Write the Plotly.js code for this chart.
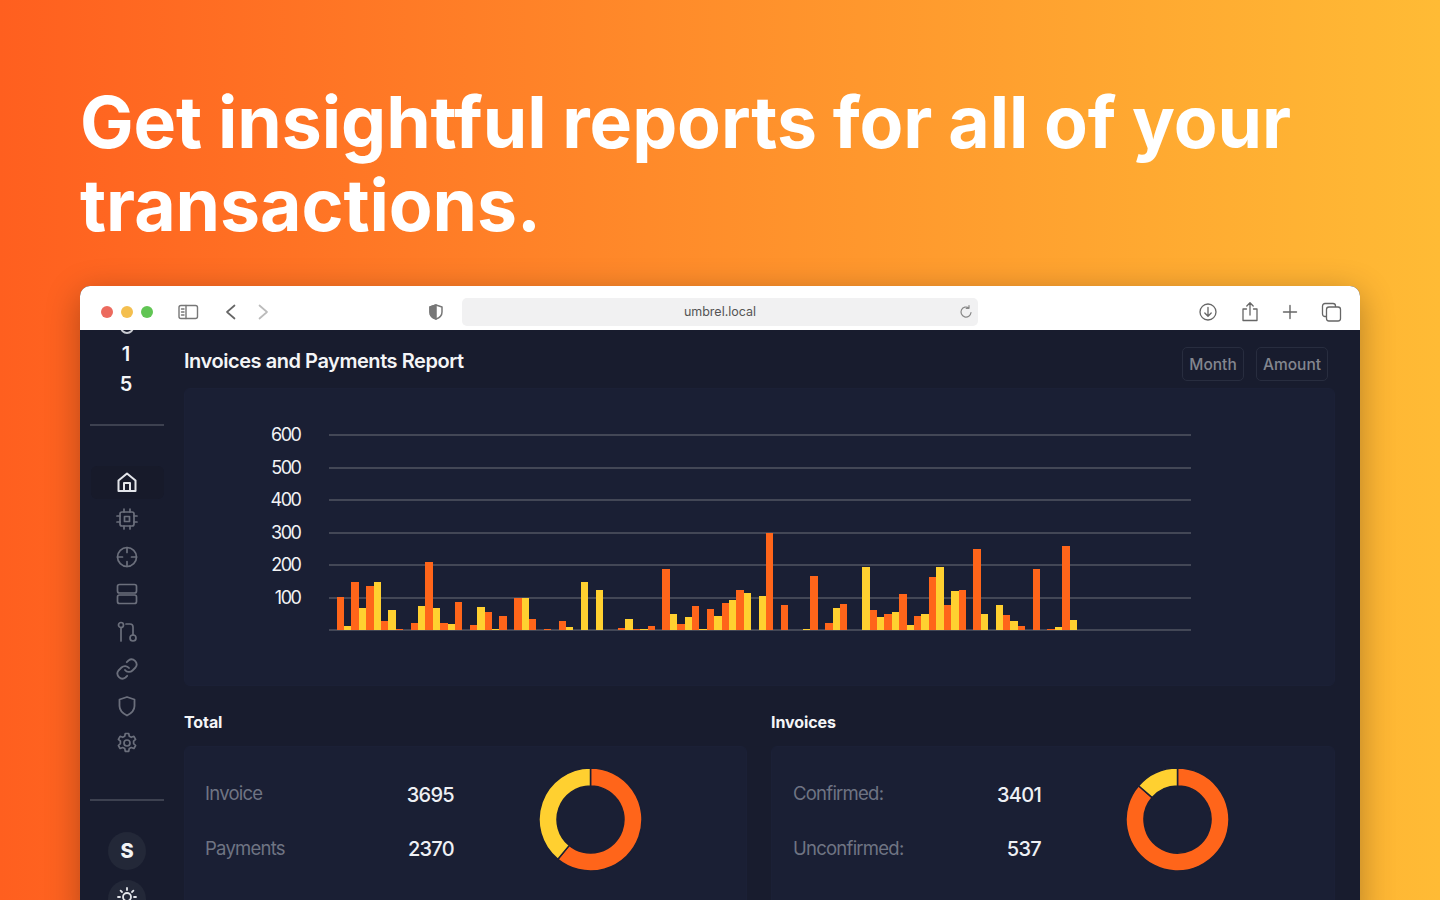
<!DOCTYPE html>
<html><head><meta charset="utf-8">
<script src="https://cdn.plot.ly/plotly-3.0.1.min.js"></script>
<style>
*{box-sizing:border-box}
html,body{margin:0;width:1440px;height:900px;overflow:hidden;font-family:Inter,"Noto Sans",sans-serif}
body{position:relative;background:linear-gradient(90deg,#ff5f1f 0%,#ff8a2a 45%,#ffbb35 100%)}
.a{position:absolute;white-space:nowrap}
#head{left:80px;top:81px;color:#fff;font-size:71.5px;font-weight:700;line-height:82.5px;letter-spacing:-.08px;word-spacing:-1px}
#win{left:80px;top:286px;width:1280px;height:640px;border-radius:10px 10px 0 0;overflow:hidden;background:#181c2e;box-shadow:0 8px 34px rgba(0,0,0,.3)}
#bar{left:80px;top:286px;width:1280px;height:44px;background:#fff;border-radius:10px 10px 0 0}
#url{left:462px;top:298px;width:516px;height:28px;background:#f1f1f2;border-radius:5px;color:#555;font-size:12.5px;line-height:28px;text-align:center}
.dot{width:12px;height:12px;border-radius:50%;top:306px}
.card{background:#1a1f34;border:1px solid #1b2036;border-radius:6px}
.h{color:#f4f5f7;font-weight:600}
.lab{color:#6f7483;font-size:18.5px;letter-spacing:-.75px}
.val{color:#eef0f4;font-size:20px;font-weight:500;text-align:right;letter-spacing:-.7px}
.btn{border:1px solid #282d3f;border-radius:5px;color:#83868f;font-size:15.5px;text-align:center;line-height:33px;height:34px;top:347px;font-weight:500}
.div{left:90px;width:74px;height:2px;background:#3d4150}
svg.i{position:absolute;fill:none;stroke-linecap:round;stroke-linejoin:round}
.plot{position:absolute}
.plot text{letter-spacing:-1.5px}
</style></head><body>
<div class="a" id="head">Get insightful reports for all of your<br>transactions.</div>
<div class="a" id="win"></div>
<div class="a" id="bar"></div>
<div class="a dot" style="left:101px;background:#ec6a5e"></div>
<div class="a dot" style="left:121px;background:#f4bf4f"></div>
<div class="a dot" style="left:141px;background:#61c554"></div>
<svg class="i" style="left:176px;top:302px" width="24" height="20" stroke="#777" stroke-width="1.4"><rect x="3" y="3.5" width="18.5" height="13" rx="2"/><path d="M10 3.5v13M5.5 7h2.5M5.5 10h2.5M5.5 13h2.5"/></svg>
<svg class="i" style="left:222px;top:302px" width="18" height="20" stroke="#666" stroke-width="1.7"><path d="M12.500 3.500 5 10l7.500 6.500"/></svg>
<svg class="i" style="left:254px;top:302px" width="18" height="20" stroke="#bbb" stroke-width="1.7"><path d="M5.500 3.500 13 10l-7.500 6.500"/></svg>
<svg class="i" style="left:426px;top:302px" width="20" height="20" stroke="#777" stroke-width="1.5"><path d="M10 3 4 5v5c0 4 3 6 6 7 3-1 6-3 6-7V5z"/><path d="M10 3 4 5v5c0 4 3 6 6 7z" fill="#777"/></svg>
<div class="a" id="url">umbrel.local</div>
<svg class="i" style="left:958px;top:304px" width="16" height="16" stroke="#888" stroke-width="1.2"><path d="M13 8.500a5 5 0 1 1-2-4.500M11 1.500V4.300H8.200"/></svg>
<svg class="i" style="left:1198px;top:302px" width="20" height="20" stroke="#666" stroke-width="1.3"><circle cx="10" cy="10" r="8"/><path d="M10 5.500v8.500M6.800 11l3.200 3.200 3.200-3.200"/></svg>
<svg class="i" style="left:1240px;top:301px" width="20" height="22" stroke="#666" stroke-width="1.3"><path d="M6.500 8H3v11.500h14V8h-3.500M10 14V2M6.800 5 10 1.800 13.200 5"/></svg>
<svg class="i" style="left:1280px;top:302px" width="20" height="20" stroke="#666" stroke-width="1.4"><path d="M10 3.500v13M3.500 10h13"/></svg>
<svg class="i" style="left:1321px;top:302px" width="21" height="20" stroke="#666" stroke-width="1.3"><rect x="1.500" y="1.500" width="13" height="13" rx="2.500"/><rect x="5.500" y="5" width="14" height="14" rx="2.500" fill="#fff"/></svg>

<div class="a" style="left:120px;top:330px;width:14px;height:4px;overflow:hidden"><div style="width:14px;height:14px;margin-top:-10px;border-radius:50%;border:2px solid #c9cbd1"></div></div>
<div class="a h" style="left:112px;width:28px;text-align:center;top:342px;font-size:20px;font-weight:600">1</div>
<div class="a h" style="left:112px;width:28px;text-align:center;top:372px;font-size:20px;font-weight:600">5</div>
<div class="a div" style="top:424px"></div>
<div class="a div" style="top:799px"></div>
<div class="a" style="left:91px;top:466px;width:73px;height:33px;background:#171a2a;border-radius:6px"></div>
<svg class="i" style="left:115px;top:470px" width="24" height="24" stroke="#e3e5ea" stroke-width="2"><path d="M3.500 10.500 12 3.500l8.500 7V21h-17zM9 21v-8h6v8"/></svg>
<svg class="i" style="left:115px;top:507px" width="24" height="24" stroke="#6b6f7c" stroke-width="1.7"><rect x="5" y="5" width="14" height="14" rx="2"/><rect x="9.500" y="9.500" width="5" height="5"/><path d="M9 2v3M15 2v3M9 19v3M15 19v3M2 9h3M2 15h3M19 9h3M19 15h3"/></svg>
<svg class="i" style="left:115px;top:545px" width="24" height="24" stroke="#6b6f7c" stroke-width="1.7"><circle cx="12" cy="12" r="9.500"/><path d="M12 2.500v5M12 16.500v5M2.500 12h5M16.500 12h5"/></svg>
<svg class="i" style="left:115px;top:582px" width="24" height="24" stroke="#6b6f7c" stroke-width="1.7"><rect x="2.500" y="2.500" width="19" height="8.500" rx="2"/><rect x="2.500" y="13" width="19" height="8.500" rx="2"/></svg>
<svg class="i" style="left:115px;top:620px" width="24" height="24" stroke="#6b6f7c" stroke-width="1.7"><circle cx="6" cy="5" r="2.500"/><circle cx="18" cy="18" r="3"/><path d="M6 7.500V21M11 4h4a3 3 0 0 1 3 3v8"/></svg>
<svg class="i" style="left:115px;top:657px" width="24" height="24" stroke="#6b6f7c" stroke-width="1.8"><path d="M10 13a5 5 0 0 0 7.500.5l3-3a5 5 0 0 0-7-7l-1.700 1.700"/><path d="M14 11a5 5 0 0 0-7.500-.5l-3 3a5 5 0 0 0 7 7l1.700-1.700"/></svg>
<svg class="i" style="left:115px;top:694px" width="24" height="24" stroke="#6b6f7c" stroke-width="1.8"><path d="M12 3 4.500 5.500V12c0 5 3.500 7.500 7.500 9.500 4-2 7.500-4.500 7.500-9.500V5.500z"/></svg>
<svg class="i" style="left:115px;top:731px" width="24" height="24" stroke="#6b6f7c" stroke-width="1.7"><circle cx="12" cy="12" r="3"/><path d="M10.300 2.500h3.400l.6 2.800 2 1 2.600-1 1.700 3-2 1.900v2.400l2 1.900-1.700 3-2.600-1-2 1-.6 2.800h-3.400l-.6-2.800-2-1-2.600 1-1.700-3 2-1.900v-2.400l-2-1.900 1.700-3 2.600 1 2-1z"/></svg>
<div class="a" style="left:108px;top:832px;width:38px;height:38px;border-radius:50%;background:#232838;color:#f2f3f5;font-weight:800;font-size:20px;line-height:38px;text-align:center">S</div>
<div class="a" style="left:108px;top:880px;width:38px;height:38px;border-radius:50%;background:#232838"></div>
<svg class="i" style="left:116px;top:886px" width="22" height="22" stroke="#e3e5ea" stroke-width="1.8"><circle cx="11" cy="11" r="4"/><path d="M11 2v2M4.600 4.600 6 6M17.400 4.600 16 6M2 11h2M18 11h2"/></svg>

<div class="a h" id="rt" style="left:184px;top:349px;font-size:20px;letter-spacing:-.45px">Invoices and Payments Report</div>
<div class="a btn" style="left:1182px;width:62px">Month</div>
<div class="a btn" style="left:1256px;width:72px">Amount</div>
<div class="a card" style="left:184px;top:388px;width:1151px;height:298px"></div>
<div class="a h" style="left:184px;top:712px;font-size:16px;font-weight:700;letter-spacing:-.1px">Total</div>
<div class="a h" style="left:771px;top:712px;font-size:16px;font-weight:700;letter-spacing:-.1px">Invoices</div>
<div class="a card" style="left:184px;top:746px;width:563px;height:180px"></div>
<div class="a card" style="left:771px;top:746px;width:564px;height:180px"></div>
<div class="a lab" style="left:205px;top:782px">Invoice</div>
<div class="a lab" style="left:205px;top:837px">Payments</div>
<div class="a val" style="left:354px;width:100px;top:783px">3695</div>
<div class="a val" style="left:354px;width:100px;top:837px">2370</div>
<div class="a lab" style="left:793px;top:782px">Confirmed:</div>
<div class="a lab" style="left:793px;top:837px">Unconfirmed:</div>
<div class="a val" style="left:941px;width:100px;top:783px">3401</div>
<div class="a val" style="left:941px;width:100px;top:837px">537</div>

<div class="plot" id="bars" style="left:230px;top:420px;width:980px;height:230px"></div>
<div class="plot" id="d1" style="left:539px;top:768px;width:103px;height:103px"></div>
<div class="plot" id="d2" style="left:1126px;top:768px;width:103px;height:103px"></div>

<script>
const ORANGE = "#ff651a", YELLOW = "#ffd030";
const tickLabels = [100,200,300,400,500,600];
const periods = [0,1,2,3,4,5,6,7,8,9,10,11,12,13,14,15,16,17,18,19,20,21,22,23,24,25,26,27,28,29,30,31,32,33,34,35,36,37,38,39,40,41,42,43,44,45,46,47,48,49];
const invoiceBars = [103,148,136,28,4,23,210,23,86,14,55,43,98,33,2,27,0,0,0,5,3,13,188,17,74,64,82,124,0,300,77,0,167,23,80,0,62,48,111,43,163,77,124,248,0,45,12,189,2,258];
const paymentBars = [12,69,147,62,0,75,68,18,0,71,4,0,98,0,0,8,148,124,0,33,3,0,50,41,3,43,92,115,106,0,0,2,0,67,0,194,40,56,15,50,194,119,0,48,77,27,0,0,10,31];
const totalLabels = ["Invoice","Payments"];
const totalValues = [3695,2370];
const invoiceLabels = ["Confirmed","Unconfirmed"];
const invoiceValues = [3401,537];

const cfg = {displayModeBar:false,staticPlot:true};
Plotly.newPlot("bars",[
 {type:"bar",x:periods,y:invoiceBars,name:"Invoices",marker:{color:ORANGE}},
 {type:"bar",x:periods,y:paymentBars,name:"Payments",marker:{color:YELLOW}}
],{
 width:980,height:230,margin:{l:99,r:19,t:11,b:20},
 paper_bgcolor:"rgba(0,0,0,0)",plot_bgcolor:"rgba(0,0,0,0)",
 barmode:"group",bargap:0,bargroupgap:0,showlegend:false,
 xaxis:{range:[-1.01,57.2],showgrid:false,showticklabels:false,zeroline:false,ticks:""},
 yaxis:{range:[0,612.3],tickvals:tickLabels,ticks:"outside",ticklen:24,tickcolor:"rgba(0,0,0,0)",
   gridcolor:"#434756",gridwidth:2,zeroline:true,zerolinecolor:"#434756",zerolinewidth:2,
   tickfont:{family:"Inter",size:18,color:"#f2f3f5"}}
},cfg);
function donut(id,labels,values){
 Plotly.newPlot(id,[{type:"pie",labels:labels,values:values,hole:.65,sort:false,direction:"clockwise",rotation:0,
   textinfo:"none",marker:{colors:[ORANGE,YELLOW],line:{color:"#1a1f34",width:1.5}}}],
   {width:103,height:103,margin:{l:0,r:0,t:0,b:0},showlegend:false,paper_bgcolor:"rgba(0,0,0,0)"},cfg);
}
donut("d1",totalLabels,totalValues);
donut("d2",invoiceLabels,invoiceValues);
</script>
</body></html>
